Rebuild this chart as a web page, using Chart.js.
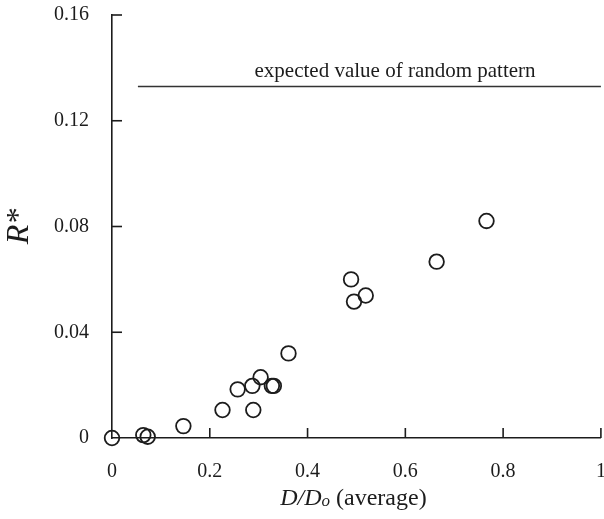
<!DOCTYPE html>
<html>
<head>
<meta charset="utf-8">
<title>R* vs D/Do</title>
<script src="https://cdn.jsdelivr.net/npm/chart.js@4.4.1/dist/chart.umd.min.js"></script>
<style>
    html, body { margin: 0; padding: 0; background: #fff; overflow: hidden; }
    #scatterChart { display: block; }
</style>
</head>
<body>
<!-- a little wider than the window so the plot reaches the right edge like the figure -->
<canvas id="scatterChart" width="610" height="519"></canvas>
<script>
// data
const ratioValues = [0, 0.064, 0.073, 0.146, 0.226, 0.257, 0.287, 0.289, 0.304, 0.327, 0.331, 0.361, 0.489, 0.495, 0.519, 0.664, 0.766];
const rStarValues = [0, 0.0011, 0.0005, 0.0045, 0.0106, 0.0184, 0.0197, 0.0106, 0.023, 0.0197, 0.0197, 0.032, 0.060, 0.0516, 0.0539, 0.0667, 0.0821];

// expected value of random pattern (horizontal reference line)
const randomLineX = [0.053, 1.0];
const randomLineY = [0.133, 0.133];
const randomLabel = 'expected value of random pattern';

const xTicks = [0, 0.2, 0.4, 0.6, 0.8, 1];
const yTicks = [0, 0.04, 0.08, 0.12, 0.16];

const serif = "'Liberation Serif', 'DejaVu Serif', serif";
const ink = '#1c1c1c';

document.addEventListener('DOMContentLoaded', function () {
    const ctx = document.getElementById('scatterChart').getContext('2d');

    const points = ratioValues.map((x, i) => ({ x: x, y: rStarValues[i] }));
    const linePoints = randomLineX.map((x, i) => ({ x: x, y: randomLineY[i] }));

    // ticks that point into the plot, plus the mixed-style texts
    const decorPlugin = {
        id: 'decor',
        afterDraw(chart) {
            const c = chart.ctx;
            const xs = chart.scales.x;
            const ys = chart.scales.y;
            const area = chart.chartArea;
            c.save();
            c.strokeStyle = ink;
            c.lineWidth = 1.6;
            xTicks.forEach(v => {
                if (v === 0) return;
                const px = xs.getPixelForValue(v);
                c.beginPath();
                c.moveTo(px, area.bottom);
                c.lineTo(px, area.bottom - 10);
                c.stroke();
            });
            yTicks.forEach(v => {
                if (v === 0) return;
                const py = ys.getPixelForValue(v);
                c.beginPath();
                c.moveTo(area.left, py);
                c.lineTo(area.left + 10, py);
                c.stroke();
            });

            // label above the reference line
            c.fillStyle = ink;
            c.textAlign = 'center';
            c.textBaseline = 'alphabetic';
            c.font = '21px ' + serif;
            const lx = xs.getPixelForValue(0.579);
            const ly = ys.getPixelForValue(randomLineY[0]) - 9;
            c.fillText(randomLabel, lx, ly);

            // x axis title: D/Do (average), italic with a small o
            const parts = [
                { t: 'D/D', f: 'italic 24px ' + serif, dy: 0 },
                { t: 'o', f: 'italic 17px ' + serif, dy: 1 },
                { t: ' (average)', f: '24px ' + serif, dy: 0 }
            ];
            let total = 0;
            parts.forEach(p => { c.font = p.f; p.w = c.measureText(p.t).width; total += p.w; });
            let x0 = (area.left + area.right) / 2 - total / 2 - 3;
            const base = 505;
            c.textAlign = 'left';
            parts.forEach(p => {
                c.font = p.f;
                c.fillText(p.t, x0, base + p.dy);
                x0 += p.w;
            });
            c.restore();
        }
    };

    // invisible outer ticks just space the labels away from the axis
    const hiddenTicks = 'rgba(0,0,0,0)';

    new Chart(ctx, {
        type: 'scatter',
        data: {
            datasets: [{
                label: 'R*',
                data: points,
                pointStyle: 'circle',
                pointRadius: 7.3,
                pointHoverRadius: 7.3,
                pointBorderWidth: 1.8,
                borderColor: ink,
                backgroundColor: 'rgba(0,0,0,0)',
                clip: false
            }, {
                type: 'line',
                label: randomLabel,
                data: linePoints,
                borderColor: '#333',
                borderWidth: 1.5,
                pointRadius: 0,
                fill: false,
                clip: false
            }]
        },
        options: {
            responsive: false,
            animation: false,
            events: [],
            layout: { padding: { top: 15, right: 3, left: 0, bottom: 0 } },
            plugins: {
                legend: { display: false },
                tooltip: { enabled: false }
            },
            scales: {
                x: {
                    type: 'linear',
                    min: 0,
                    max: 1,
                    afterBuildTicks: function (scale) {
                        scale.ticks = xTicks.map(v => ({ value: v }));
                    },
                    afterFit: function (scale) {
                        scale.height = 81;
                        scale.paddingLeft = 0;
                        scale.paddingRight = 0;
                    },
                    grid: {
                        display: true,
                        drawOnChartArea: false,
                        drawTicks: true,
                        tickLength: 22,
                        tickColor: hiddenTicks
                    },
                    border: { display: true, color: ink, width: 1.6 },
                    ticks: {
                        padding: 0,
                        color: ink,
                        autoSkip: false,
                        font: { family: serif, size: 20 },
                        maxRotation: 0,
                        callback: v => String(v)
                    }
                },
                y: {
                    type: 'linear',
                    min: 0,
                    max: 0.16,
                    afterBuildTicks: function (scale) {
                        scale.ticks = yTicks.map(v => ({ value: v }));
                    },
                    afterFit: function (scale) {
                        scale.width = 112;
                        scale.paddingTop = 0;
                        scale.paddingBottom = 0;
                    },
                    grid: {
                        display: true,
                        drawOnChartArea: false,
                        drawTicks: true,
                        tickLength: 23,
                        tickColor: hiddenTicks
                    },
                    border: { display: true, color: ink, width: 1.6 },
                    title: {
                        display: true,
                        text: 'R*',
                        color: ink,
                        padding: { top: 0, bottom: 0 },
                        font: { family: serif, size: 32, style: 'italic' }
                    },
                    ticks: {
                        padding: 0,
                        color: ink,
                        autoSkip: false,
                        font: { family: serif, size: 20 },
                        callback: v => (v === 0 ? '0' : v.toFixed(2))
                    }
                }
            }
        },
        plugins: [decorPlugin]
    });
});
</script>
</body>
</html>
